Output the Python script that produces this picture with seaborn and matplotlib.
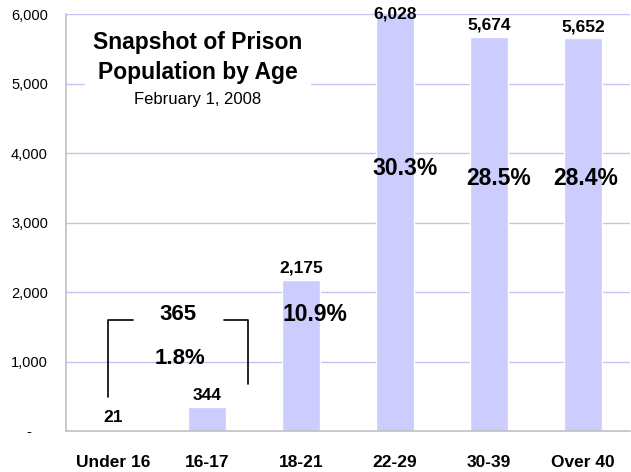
import matplotlib
matplotlib.use('Agg')
import matplotlib.pyplot as plt
import seaborn as sns
import pandas as pd

# data
age_groups = ['Under 16', '16-17', '18-21', '22-29', '30-39', 'Over 40']
inmates = [21, 344, 2175, 6028, 5674, 5652]
share_labels = ['', '', '10.9%', '30.3%', '28.5%', '28.4%']
young_total = '365'
young_share = '1.8%'
y_ticks = [0, 1000, 2000, 3000, 4000, 5000, 6000]

BAR = '#ccccff'
GRID = '#c4c4f4'
SPINE = '#c0c0c0'

# where the big percent labels sit (x offset from bar centre, height)
share_pos = {2: (0.15, 1670), 3: (0.11, 3780), 4: (0.10, 3640), 5: (0.03, 3640)}


def make_chart():
    sns.set_style('white')
    plt.rcParams['font.family'] = ['Liberation Sans', 'DejaVu Sans']
    plt.rcParams['text.color'] = 'black'

    df = pd.DataFrame({'age': age_groups, 'count': inmates})

    fig = plt.figure(figsize=(6.31, 4.72), dpi=100)
    ax = fig.add_axes([66 / 631, 41 / 472, 564 / 631, 417 / 472])

    sns.barplot(data=df, x='age', y='count', color=BAR, width=0.41,
                saturation=1, ax=ax, zorder=2)

    ax.set_xlim(-0.5, 5.5)
    ax.set_ylim(0, 6000)
    ax.set_xlabel('')
    ax.set_ylabel('')

    # gridlines
    for y in y_ticks[1:]:
        ax.axhline(y, color=GRID, lw=1, zorder=1)

    for side in ['top', 'right']:
        ax.spines[side].set_visible(False)
    for side in ['left', 'bottom']:
        ax.spines[side].set_color(SPINE)
        ax.spines[side].set_linewidth(1.2)

    ax.set_yticks(y_ticks)
    ax.set_yticklabels(['-    '] + [f'{v:,}' for v in y_ticks[1:]])
    ax.tick_params(axis='y', length=0, pad=13, labelsize=10.5, labelcolor='black')

    ax.set_xticks(range(len(age_groups)))
    ax.set_xticklabels(age_groups, fontweight='bold', fontsize=12.5)
    ax.tick_params(axis='x', which='major', length=0, pad=17, labelcolor='black')
    ax.set_xticks([i - 0.5 for i in range(len(age_groups) + 1)], minor=True)
    ax.tick_params(axis='x', which='minor', length=4.5, color=SPINE, width=1.2)

    # value labels above bars (pushed inside when near the top)
    for i, v in enumerate(inmates):
        ax.annotate(f'{v:,}', (i, min(v, 5830)), xytext=(0, 3),
                    textcoords='offset points', ha='center', va='bottom',
                    fontsize=12.5, fontweight='bold')

    # percent shares
    for i, lab in enumerate(share_labels):
        if lab:
            dx, y = share_pos[i]
            ax.text(i + dx, y, lab, ha='center', va='center',
                    fontsize=16.5, fontweight='bold', zorder=4)

    # bracket joining the two youngest groups
    ax.plot([-0.053, -0.053, 0.213], [489, 1597, 1597], color='black', lw=1.2, zorder=4)
    ax.plot([1.181, 1.436, 1.436], [1597, 1597, 676], color='black', lw=1.2, zorder=4)
    ax.text(0.69, 1683, young_total, ha='center', va='center',
            fontsize=16, fontweight='bold', zorder=4)
    ax.text(0.71, 1050, young_share, ha='center', va='center',
            fontsize=16, fontweight='bold', zorder=4)

    # title block
    ax.text(0.904, 5374, 'Snapshot of Prison\nPopulation by Age', ha='center',
            va='center', fontsize=16.5, fontweight='bold', linespacing=1.4,
            zorder=5, bbox=dict(facecolor='white', edgecolor='none', pad=6))
    ax.text(0.904, 4763, 'February 1, 2008', ha='center', va='center',
            fontsize=12, zorder=5)

    fig.savefig('out.png', dpi=100)


if __name__ == '__main__':
    make_chart()
